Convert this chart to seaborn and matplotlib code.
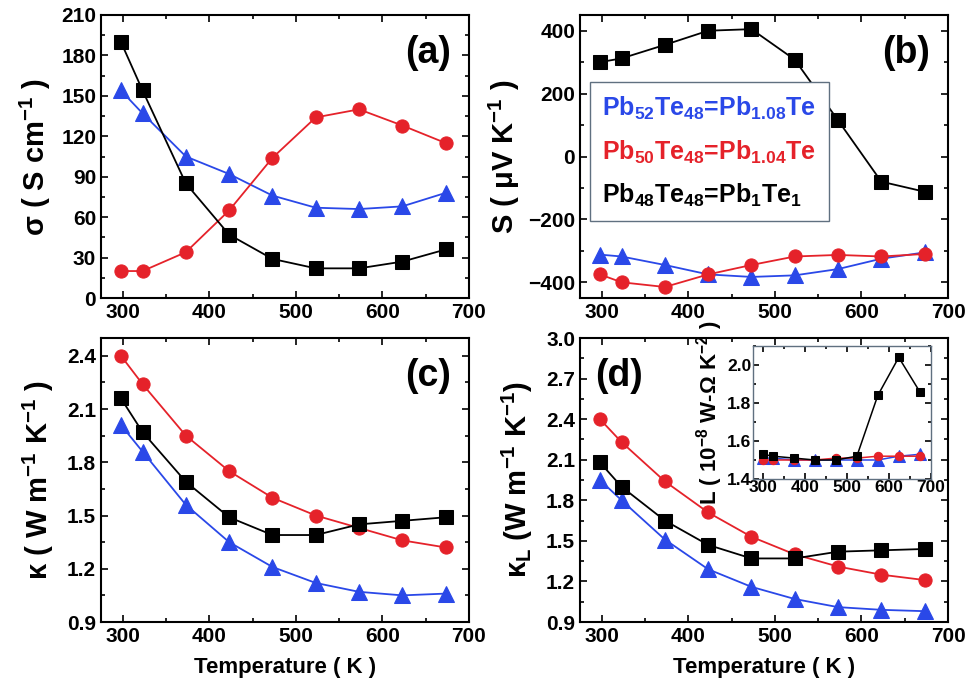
import numpy as np
import pandas as pd
import seaborn as sns
import matplotlib
matplotlib.use('Agg')
import matplotlib.pyplot as plt
from matplotlib.ticker import MultipleLocator

#----------------------------------------
temps = [298, 323, 373, 423, 473, 523, 573, 623, 673]

sigma_blue = [154, 137, 105, 92, 76, 67, 66, 68, 78]
sigma_red = [20, 20, 34, 65, 104, 134, 140, 128, 115]
sigma_black = [190, 154, 85, 47, 29, 22, 22, 27, 36]

seeb_blue = [-312, -318, -345, -375, -383, -378, -358, -325, -305]
seeb_red = [-375, -400, -415, -375, -345, -318, -313, -318, -310]
seeb_black = [300, 312, 355, 400, 405, 308, 115, -80, -112]

kap_blue = [2.01, 1.86, 1.56, 1.35, 1.21, 1.12, 1.07, 1.05, 1.06]
kap_red = [2.40, 2.24, 1.95, 1.75, 1.60, 1.50, 1.43, 1.36, 1.32]
kap_black = [2.16, 1.97, 1.69, 1.49, 1.39, 1.39, 1.45, 1.47, 1.49]

kapL_blue = [1.95, 1.80, 1.51, 1.29, 1.16, 1.07, 1.01, 0.99, 0.98]
kapL_red = [2.40, 2.23, 1.94, 1.71, 1.53, 1.40, 1.31, 1.25, 1.21]
kapL_black = [2.08, 1.90, 1.65, 1.47, 1.37, 1.37, 1.42, 1.43, 1.44]

lor_blue = [1.51, 1.51, 1.50, 1.50, 1.50, 1.50, 1.50, 1.52, 1.53]
lor_red = [1.50, 1.50, 1.50, 1.50, 1.51, 1.51, 1.52, 1.52, 1.52]
lor_black = [1.53, 1.52, 1.51, 1.50, 1.50, 1.52, 1.84, 2.04, 1.86]

legend_labels = ['Pb$_{52}$Te$_{48}$=Pb$_{1.08}$Te',
                 'Pb$_{50}$Te$_{48}$=Pb$_{1.04}$Te',
                 'Pb$_{48}$Te$_{48}$=Pb$_{1}$Te$_{1}$']
#----------------------------------------

sns.set_style('ticks')
plt.rcParams['font.family'] = ['Liberation Sans', 'DejaVu Sans']
plt.rcParams['font.weight'] = 'bold'
plt.rcParams['mathtext.fontset'] = 'custom'
plt.rcParams['mathtext.rm'] = 'Liberation Sans:bold'
plt.rcParams['mathtext.bf'] = 'Liberation Sans:bold'
plt.rcParams['mathtext.it'] = 'Liberation Sans:bold'
plt.rcParams['mathtext.sf'] = 'Liberation Sans:bold'
for k in ['text.color', 'axes.labelcolor', 'xtick.color', 'ytick.color', 'axes.edgecolor']:
    plt.rcParams[k] = 'black'

BLUE = '#2a48e8'
RED = '#e5222a'
BLACK = '#000000'
styles = [(BLUE, '^'), (RED, 'o'), (BLACK, 's')]

fig = plt.figure(figsize=(9.69, 6.85), dpi=100)
W, H = 969, 685


def box(l, t, r, b):
    return [l / W, 1 - b / H, (r - l) / W, (b - t) / H]


ax_a = fig.add_axes(box(101, 15, 469, 298))
ax_b = fig.add_axes(box(580, 15, 948, 298))
ax_c = fig.add_axes(box(101, 338, 469, 622))
ax_d = fig.add_axes(box(580, 338, 948, 622))
ax_in = fig.add_axes(box(753, 346, 931, 479))


def draw(ax, series, ms=9.5, lw=1.3):
    for vals, (col, mk) in zip(series, styles):
        msz = ms + 2.5 if mk == '^' else ms
        sns.lineplot(x=temps, y=vals, ax=ax, color=col, marker=mk,
                     markersize=msz, markeredgecolor=col, linewidth=lw,
                     sort=False, legend=False)


def style(ax, ylim, ymaj, ymin, tsize=15):
    ax.set_xlim(275, 700)
    ax.set_ylim(*ylim)
    ax.xaxis.set_major_locator(MultipleLocator(100))
    ax.xaxis.set_minor_locator(MultipleLocator(50))
    ax.yaxis.set_major_locator(MultipleLocator(ymaj))
    ax.yaxis.set_minor_locator(MultipleLocator(ymin))
    ax.tick_params(which='both', direction='in', top=True, right=True,
                   width=1.2, labelsize=tsize)
    ax.tick_params(which='major', length=5)
    ax.tick_params(which='minor', length=3)
    for s in ax.spines.values():
        s.set_linewidth(1.5)
    for lab in ax.get_xticklabels() + ax.get_yticklabels():
        lab.set_fontweight('bold')


draw(ax_a, [sigma_blue, sigma_red, sigma_black])
style(ax_a, (0, 210), 30, 15)
ax_a.set_ylabel(r'$\sigma$ ( S cm$^{-1}$ )', fontsize=21, fontweight='bold', labelpad=6)
ax_a.text(0.95, 0.93, '(a)', transform=ax_a.transAxes, ha='right', va='top',
          fontsize=27, fontweight='bold')

draw(ax_b, [seeb_blue, seeb_red, seeb_black])
style(ax_b, (-450, 450), 200, 100)
ax_b.set_ylabel(r'S ( $\mu$V K$^{-1}$ )', fontsize=21, fontweight='bold', labelpad=4)
ax_b.text(0.95, 0.93, '(b)', transform=ax_b.transAxes, ha='right', va='top',
          fontsize=27, fontweight='bold')
handles = [plt.Line2D([], [], linestyle='none') for _ in legend_labels]
leg = ax_b.legend(handles, legend_labels, loc='upper left',
                  bbox_to_anchor=(0.027, 0.762), handlelength=0, handletextpad=0,
                  fontsize=18, frameon=True, fancybox=False, borderpad=0.5,
                  labelspacing=0.65, borderaxespad=0, framealpha=1)
leg.get_frame().set_edgecolor('#607080')
leg.get_frame().set_linewidth(1.0)
for txt, (col, _) in zip(leg.get_texts(), styles):
    txt.set_color(col)

draw(ax_c, [kap_blue, kap_red, kap_black])
style(ax_c, (0.9, 2.5), 0.3, 0.15)
ax_c.set_ylabel(r'$\kappa$ ( W m$^{-1}$ K$^{-1}$ )', fontsize=21, fontweight='bold', labelpad=8)
ax_c.set_xlabel('Temperature ( K )', fontsize=16, fontweight='bold', labelpad=8)
ax_c.text(0.95, 0.93, '(c)', transform=ax_c.transAxes, ha='right', va='top',
          fontsize=27, fontweight='bold')

draw(ax_d, [kapL_blue, kapL_red, kapL_black])
style(ax_d, (0.9, 3.0), 0.3, 0.15)
ax_d.set_ylabel(r'$\kappa_{L}$ (W m$^{-1}$ K$^{-1}$)', fontsize=21, fontweight='bold', labelpad=8)
ax_d.set_xlabel('Temperature ( K )', fontsize=16, fontweight='bold', labelpad=8)
ax_d.text(0.04, 0.93, '(d)', transform=ax_d.transAxes, ha='left', va='top',
          fontsize=27, fontweight='bold')

draw(ax_in, [lor_blue, lor_red, lor_black], ms=6, lw=1.1)
style(ax_in, (1.4, 2.1), 0.2, 0.1, tsize=12.5)
ax_in.tick_params(which='major', length=4, pad=1)
ax_in.tick_params(which='minor', length=2)
for s in ax_in.spines.values():
    s.set_linewidth(1.0)
    s.set_color('#607080')
ax_in.set_ylabel(r'L ( 10$^{-8}$ W-$\Omega$ K$^{-2}$ )', fontsize=16, fontweight='bold', labelpad=2)

fig.savefig('out.png', dpi=100)
